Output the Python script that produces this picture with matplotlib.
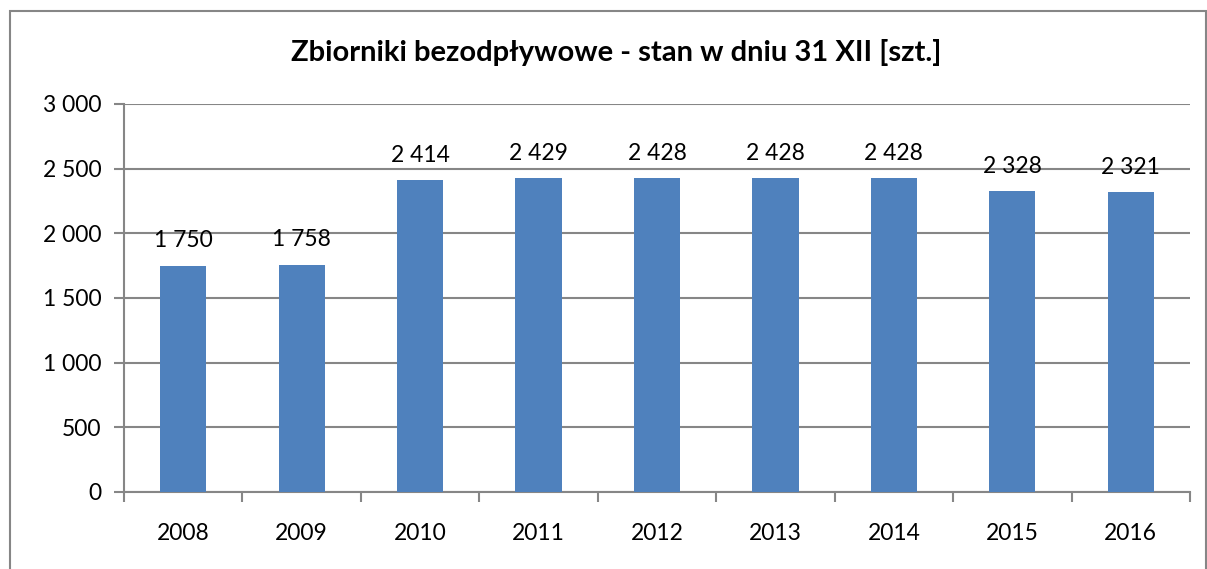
import matplotlib.pyplot as plt
from matplotlib.patches import Rectangle
import numpy as np

years = ["2008", "2009", "2010", "2011", "2012", "2013", "2014", "2015", "2016"]
values = [1750, 1758, 2414, 2429, 2428, 2428, 2428, 2328, 2321]
y_ticks = [0, 500, 1000, 1500, 2000, 2500, 3000]


def fmt(v):
    return f"{v:,}".replace(",", " ")


plt.rcParams['font.family'] = ['Lato', 'DejaVu Sans']

fig = plt.figure(figsize=(12.07, 5.69), dpi=100)
ax = fig.add_axes([124 / 1207, 1 - 492 / 569, (1190 - 124) / 1207, (492 - 104) / 569])

# ramka wykresu
fig.patches.append(Rectangle((9.5 / 1207, -0.01), (1205.5 - 9.5) / 1207, 1 - 11 / 569 + 0.01,
                             transform=fig.transFigure, fill=False,
                             edgecolor='#868686', linewidth=1.5))

x = np.arange(len(years))
ax.bar(x, values, width=0.39, color='#4F81BD', zorder=3)

for xi, v in zip(x, values):
    ax.text(xi, v + 110, fmt(v), ha='center', va='bottom', fontsize=16.5, color='black')

ax.set_xlim(-0.5, len(years) - 0.5)
ax.set_ylim(0, 3000)
ax.set_yticks(y_ticks)
ax.set_yticklabels([fmt(t) for t in y_ticks], fontsize=16.5)
ax.set_xticks(x)
ax.set_xticklabels(years, fontsize=16.5)
ax.tick_params(axis='x', length=0, pad=22)
ax.tick_params(axis='y', length=7, color='#868686', width=1.5, pad=9)
ax.set_xticks(np.arange(-0.5, len(years)), minor=True)
ax.tick_params(axis='x', which='minor', length=7, color='#868686', width=1.5)

ax.grid(axis='y', color='#868686', linewidth=1.5, zorder=0)
for s in ['top', 'right']:
    ax.spines[s].set_visible(False)
for s in ['left', 'bottom']:
    ax.spines[s].set_color('#868686')
    ax.spines[s].set_linewidth(1.5)

fig.text(616 / 1207, 1 - 53 / 569, "Zbiorniki bezodpływowe - stan w dniu 31 XII [szt.]",
         ha='center', va='center', fontsize=21, fontweight='bold')

fig.savefig("out.png", dpi=100)
